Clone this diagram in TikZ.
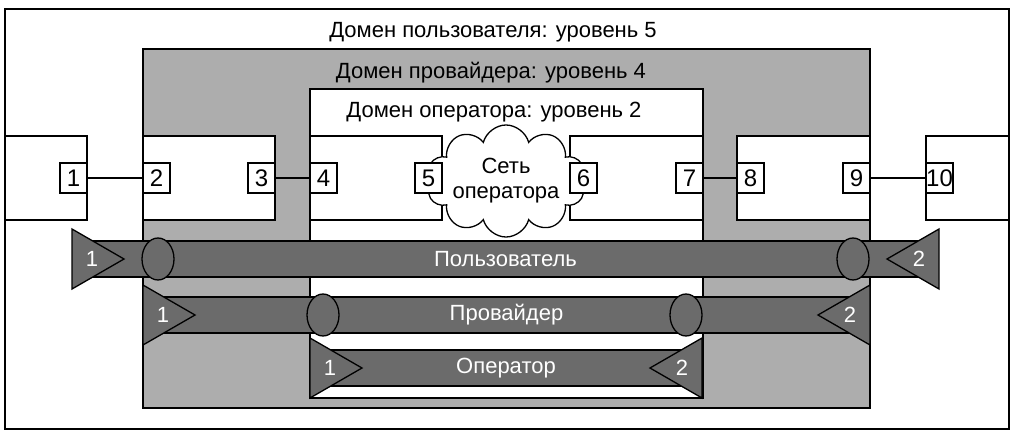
\documentclass[tikz,border=0pt]{standalone}
\usepackage{fontspec}
\setmainfont{Liberation Sans}
\usetikzlibrary{calc}
\usetikzlibrary{shapes.geometric}
\usetikzlibrary{shapes.symbols}
\usepackage{xcolor}
\definecolor{provgray}{gray}{0.68}
\definecolor{tubegray}{gray}{0.42}

\begin{document}
\begin{tikzpicture}[x=1pt,y=-1pt,line width=1.3pt,
    title/.style={anchor=base, font=\fontsize{22}{26}\selectfont},
    dev/.style={draw, fill=white, minimum height=84, inner sep=0pt},
    port/.style={draw, fill=white, minimum width=27, minimum height=30, inner sep=0pt, font=\fontsize{24}{26}\selectfont},
    tube/.style={draw, fill=tubegray, minimum height=36, inner sep=0pt, text=white, font=\fontsize{22}{26}\selectfont},
    joint/.style={draw, fill=tubegray, ellipse, minimum width=32, minimum height=42, inner sep=0pt},
    tubeend/.style={draw, fill=tubegray, line join=miter},
    endlabel/.style={text=white, inner sep=0pt, font=\fontsize{22}{26}\selectfont}]

        \useasboundingbox (0,0) rectangle (1015,431);
        \fill[white] (0,0) rectangle (1015,431);

        % Domains
        \draw[fill=white] (5,9) rectangle (1009,429);
        \node[title] (tuser) at (493,37) {Домен пользователя: уровень 5};
        \draw[fill=provgray] (143,49) rectangle (870,408);
        \node[title] (tprov) at (491,78) {Домен провайдера: уровень 4};
        \draw[fill=white] (310,89) rectangle (703,398);
        \node[title] (toper) at (494,117) {Домен оператора: уровень 2};

        % Devices
        \foreach \nm/\xa/\xb in {b1/5/87, b2/143/275, b3/310/442, b4/570/703, b5/737/870, b6/926/1009}
        {
          \node[dev, minimum width={\xb-\xa}] (\nm) at ({(\xa+\xb)/2},178) {};
        }

        % Operator network
        \node[draw, fill=white, cloud, cloud puffs=10, cloud ignores aspect, minimum width=116,
              minimum height=112, inner sep=0pt, align=center, font=\fontsize{22}{25}\selectfont]
              (net) at (506,181) {Сеть\\оператора};

        % Ports
        \foreach \p/\b/\side in {1/b1/east, 2/b2/west, 3/b2/east, 4/b3/west, 5/b3/east,
                                 6/b4/west, 7/b4/east, 8/b5/west, 9/b5/east, 10/b6/west}
        {
          \node[port, anchor=\side] (p\p) at (\b.\side) {\p};
        }

        % Links
        \foreach \a/\b in {1/2, 3/4, 7/8, 9/10}
        {
          \draw (p\a) -- (p\b);
        }

        % Tubes
        \foreach \nm/\yc/\xl/\xr/\txt in {user/259/72/939/Пользователь, prov/315/143/870/Провайдер, oper/368/310/702/Оператор}
        {
          \node[tube, minimum width={\xr-\xl-44}] (\nm) at ({(\xl+\xr)/2},\yc) {\txt};
          \draw[tubeend] (\xl,\yc-30) -- (\xl,\yc+30) -- (\xl+52,\yc) -- cycle;
          \draw[tubeend] (\xr,\yc-30) -- (\xr,\yc+30) -- (\xr-52,\yc) -- cycle;
          \node[endlabel] (\nm-a) at (\xl+20,\yc) {1};
          \node[endlabel] (\nm-b) at (\xr-20,\yc) {2};
        }

        % Joints
        \node[joint] (uj1) at (158,259) {};
        \node[joint] (uj2) at (853,259) {};
        \node[joint] (pj1) at (323,315) {};
        \node[joint] (pj2) at (686,315) {};
    \end{tikzpicture}
\end{document}
